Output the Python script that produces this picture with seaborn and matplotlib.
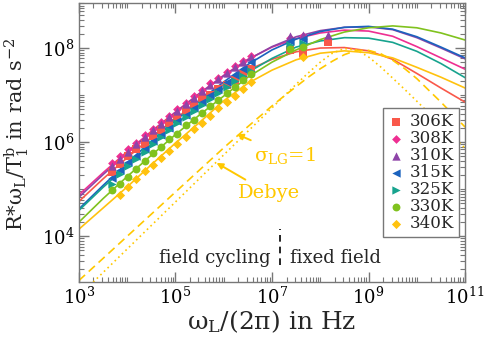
import numpy as np
import pandas as pd
import matplotlib
matplotlib.use('Agg')
import matplotlib.pyplot as plt
import seaborn as sns
from matplotlib.ticker import LogLocator, NullFormatter, FixedLocator

# all values are log10
temps = ['306K', '308K', '310K', '315K', '325K', '330K', '340K']
colors = ['#F9584A', '#EE2F92', '#8E44A8', '#1B63BE', '#17A38E', '#80C21E', '#FFC20E']
markers = ['s', 'D', '^', '<', '>', 'o', 'D']
msizes = [30, 20, 36, 36, 36, 32, 22]

# fit curves (log10 f, log10 value)
fit_logf = [3.0, 3.5, 4.0, 4.5, 5.0, 5.5, 6.0, 6.5, 7.0, 7.5, 8.0, 8.5, 9.0, 9.5, 10.0, 10.5, 11.0]
fit_306 = [4.74, 5.22, 5.67, 6.10, 6.50, 6.88, 7.23, 7.53, 7.76, 7.92, 8.00, 8.01, 7.94, 7.76, 7.46, 7.15, 6.85]
fit_308 = [4.88, 5.35, 5.80, 6.23, 6.64, 7.04, 7.42, 7.76, 8.02, 8.20, 8.32, 8.38, 8.36, 8.25, 8.03, 7.79, 7.55]
fit_310 = [4.83, 5.31, 5.77, 6.21, 6.63, 7.03, 7.41, 7.75, 8.03, 8.24, 8.37, 8.44, 8.45, 8.39, 8.22, 8.00, 7.77]
fit_315 = [4.58, 5.08, 5.56, 6.02, 6.46, 6.88, 7.28, 7.65, 7.96, 8.19, 8.35, 8.44, 8.46, 8.40, 8.24, 8.02, 7.79]
fit_325 = [4.55, 5.04, 5.50, 5.95, 6.38, 6.78, 7.15, 7.48, 7.78, 8.02, 8.15, 8.22, 8.21, 8.12, 7.93, 7.67, 7.37]
fit_330 = [4.30, 4.80, 5.27, 5.72, 6.16, 6.58, 6.98, 7.38, 7.70, 7.96, 8.18, 8.34, 8.43, 8.47, 8.43, 8.32, 8.17]
fit_340 = [4.15, 4.60, 5.05, 5.52, 5.98, 6.42, 6.88, 7.25, 7.53, 7.75, 7.89, 7.94, 7.90, 7.79, 7.59, 7.38, 7.15]
fits = [fit_306, fit_308, fit_310, fit_315, fit_325, fit_330, fit_340]

# model spectra at 340K
model_logf = [3.0, 3.5, 4.0, 4.5, 5.0, 5.5, 6.0, 6.5, 7.0, 7.25, 7.5, 7.75, 8.0, 8.25,
              8.5, 8.75, 9.0, 9.25, 9.5, 9.75, 10.0, 10.5, 11.0]
lg_sigma1 = [3.06, 3.53, 4.00, 4.47, 4.94, 5.41, 5.88, 6.33, 6.77, 6.98, 7.18, 7.38, 7.56, 7.72,
             7.86, 7.95, 7.95, 7.88, 7.74, 7.56, 7.35, 6.85, 6.32]
debye = [2.73, 3.23, 3.73, 4.23, 4.73, 5.23, 5.73, 6.23, 6.73, 6.98, 7.23, 7.47, 7.70, 7.89,
         7.99, 7.96, 7.81, 7.60, 7.36, 7.12, 6.87, 6.37, 5.87]

# field cycling data
fc_logf = [3.68, 3.85, 4.02, 4.19, 4.36, 4.53, 4.70, 4.87, 5.04, 5.21, 5.38, 5.55, 5.72, 5.89,
           6.06, 6.23, 6.40, 6.57]
fc_306 = [5.36, 5.53, 5.70, 5.85, 5.97, 6.13, 6.25, 6.41, 6.52, 6.67, 6.78, 6.93, 7.00, 7.12,
          7.22, 7.33, 7.44, 7.55]
fc_308 = [5.55, 5.70, 5.86, 5.99, 6.15, 6.28, 6.43, 6.56, 6.71, 6.84, 6.98, 7.11, 7.25, 7.37,
          7.50, 7.61, 7.73, 7.84]
fc_310 = [5.49, 5.65, 5.80, 5.96, 6.10, 6.26, 6.39, 6.54, 6.67, 6.82, 6.94, 7.09, 7.21, 7.35,
          7.46, 7.59, 7.70, 7.82]
fc_315 = [5.23, 5.40, 5.57, 5.70, 5.86, 6.02, 6.16, 6.31, 6.44, 6.58, 6.72, 6.86, 7.00, 7.14,
          7.27, 7.42, 7.56, 7.70]
fc_325 = [5.12, 5.32, 5.49, 5.65, 5.80, 5.96, 6.11, 6.25, 6.40, 6.53, 6.66, 6.80, 6.92, 7.05,
          7.17, 7.29, 7.40, 7.51]
fc_330 = [4.98, 5.12, 5.27, 5.42, 5.61, 5.76, 5.90, 6.06, 6.18, 6.36, 6.48, 6.63, 6.77, 6.90,
          7.04, 7.17, 7.32, 7.45]
fc_340 = [np.nan, 4.88, 5.05, 5.22, 5.38, 5.52, 5.67, 5.82, 5.96, 6.12, 6.27, 6.40, 6.55, 6.72,
          6.86, 6.98, 7.12, 7.27]
fc_vals = [fc_306, fc_308, fc_310, fc_315, fc_325, fc_330, fc_340]

# fixed field data
ff_logf = [7.37, 7.65, 8.17]
ff_306 = [7.96, 7.90, 8.13]
ff_308 = [8.22, 8.26, np.nan]
ff_310 = [8.25, 8.28, 8.27]
ff_315 = [8.15, 8.20, np.nan]
ff_325 = [8.06, 8.10, np.nan]
ff_330 = [7.97, 8.03, np.nan]
ff_340 = [np.nan, 7.82, np.nan]
ff_vals = [ff_306, ff_308, ff_310, ff_315, ff_325, ff_330, ff_340]

x_major = [1e3, 1e5, 1e7, 1e9, 1e11]
y_major = [1e4, 1e6, 1e8]
divider_logf = 7.17
gold = '#FFC800'

sns.set_theme(style='ticks')
plt.rcParams['font.family'] = ['DejaVu Serif']
plt.rcParams['mathtext.fontset'] = 'custom'
plt.rcParams['mathtext.rm'] = 'DejaVu Serif'
plt.rcParams['mathtext.it'] = 'DejaVu Serif'
plt.rcParams['mathtext.bf'] = 'DejaVu Serif:bold'

fig = plt.figure(figsize=(4.84, 3.46), dpi=100)
ax = fig.add_axes([0.163, 0.185, 0.798, 0.806])

# Fitkurven
for t, c, fv in zip(temps, colors, fits):
    sns.lineplot(x=10 ** np.array(fit_logf), y=10 ** np.array(fv), color=c, lw=1.2,
                 ax=ax, zorder=2, sort=False)

sns.lineplot(x=10 ** np.array(model_logf), y=10 ** np.array(lg_sigma1), color=gold, lw=1.2,
             ax=ax, zorder=2, sort=False)
ax.lines[-1].set_dashes([5, 3])
sns.lineplot(x=10 ** np.array(model_logf), y=10 ** np.array(debye), color=gold, lw=1.2,
             ax=ax, zorder=2, sort=False)
ax.lines[-1].set_dashes([1, 2])

# Messpunkte
for t, c, m, s, fc, ff in zip(temps, colors, markers, msizes, fc_vals, ff_vals):
    df = pd.DataFrame({'f': 10 ** np.array(fc_logf + ff_logf),
                       'v': 10 ** np.array(fc + ff)}).dropna()
    sns.scatterplot(data=df, x='f', y='v', color=c, marker=m, s=s, linewidth=0,
                    ax=ax, zorder=3, label=t)

ax.set_xscale('log')
ax.set_yscale('log')
ax.set_xlim(1e3, 1e11)
ax.set_ylim(1.07e3, 9e8)

ax.xaxis.set_major_locator(FixedLocator(x_major))
ax.yaxis.set_major_locator(FixedLocator(y_major))
for axis in [ax.xaxis, ax.yaxis]:
    axis.set_minor_locator(LogLocator(base=10, subs=np.arange(1, 10), numticks=20))
    axis.set_minor_formatter(NullFormatter())

ax.tick_params(which='both', direction='in', top=True, right=True, color='#777777',
               labelsize=13, labelcolor='black')
ax.tick_params(which='major', length=7, width=1)
ax.tick_params(which='minor', length=3.5, width=0.8)
for sp in ax.spines.values():
    sp.set_color('#777777')
    sp.set_linewidth(1)

ax.set_xlabel('ω$_\\mathrm{L}$/(2π) in Hz', fontsize=18, labelpad=0)
ax.set_ylabel('R*ω$_\\mathrm{L}$/T$_1^\\mathrm{b}$ in rad s$^{-2}$', fontsize=15)
ax.yaxis.set_label_coords(-0.125, 0.53)

ax.axvline(10 ** divider_logf, ymin=0.06, ymax=0.19, color='black', lw=1.2, ls=(0, (4, 3)))
ax.text(0.496, 0.086, 'field cycling', transform=ax.transAxes, ha='right', va='center',
        fontsize=13)
ax.text(0.546, 0.086, 'fixed field', transform=ax.transAxes, ha='left', va='center',
        fontsize=13)

ax.annotate('$\\sigma_{LG}$=1', xy=(10 ** 6.27, 10 ** 6.17), xycoords='data',
            xytext=(0.534, 0.455), textcoords='axes fraction', ha='center', va='center',
            color=gold, fontsize=14,
            arrowprops=dict(arrowstyle='-|>', color=gold, lw=1.4, mutation_scale=9,
                            shrinkA=2, shrinkB=0))
ax.annotate('Debye', xy=(10 ** 5.85, 10 ** 5.56), xycoords='data',
            xytext=(0.492, 0.318), textcoords='axes fraction', ha='center', va='center',
            color=gold, fontsize=14,
            arrowprops=dict(arrowstyle='-|>', color=gold, lw=1.4, mutation_scale=9,
                            shrinkA=2, shrinkB=0))

leg = ax.legend(loc='upper left', bbox_to_anchor=(0.788, 0.624), fontsize=12,
                frameon=True, fancybox=False, framealpha=1, edgecolor='#777777',
                handlelength=0.9, handletextpad=0.4, labelspacing=0.0, borderpad=0.3,
                borderaxespad=0)
leg.get_frame().set_linewidth(1)

fig.savefig('out.png', dpi=100, facecolor='white')
